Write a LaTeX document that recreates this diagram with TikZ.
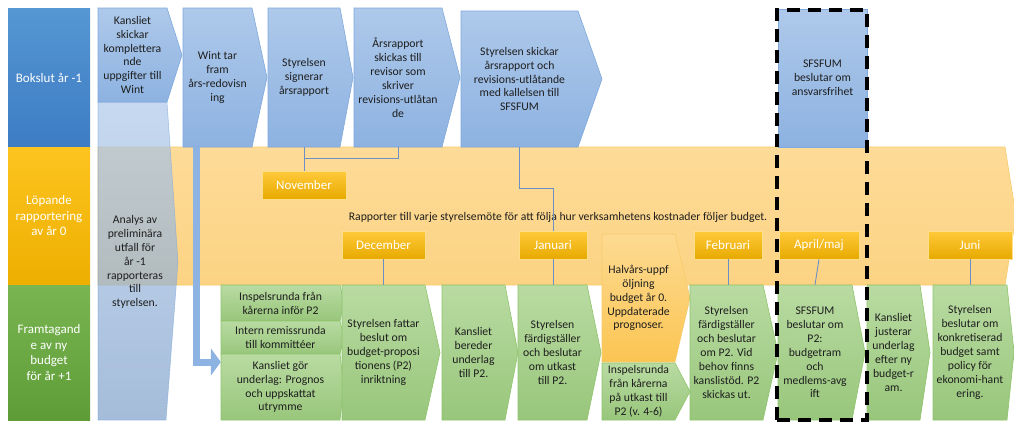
\documentclass[tikz,border=0pt]{standalone}
\usepackage{fontspec}
\setmainfont{Carlito}
\usetikzlibrary{arrows.meta,positioning}

\definecolor{bokBlue}{HTML}{5596D3}
\definecolor{bokBlueDk}{HTML}{3D7CC3}
\definecolor{lopGold}{HTML}{FDC420}
\definecolor{lopGoldDk}{HTML}{EDAF00}
\definecolor{budGreen}{HTML}{79B651}
\definecolor{budGreenDk}{HTML}{5E9C38}
\definecolor{stepBlue}{HTML}{AEC9EA}
\definecolor{stepBlueDk}{HTML}{8DB2E1}
\definecolor{stepBlueLine}{HTML}{7FA8DC}
\definecolor{stepGreen}{HTML}{B9DBA2}
\definecolor{stepGreenDk}{HTML}{98C67B}
\definecolor{stepGreenLine}{HTML}{8EC46B}
\definecolor{bandOrange}{HTML}{FDDB98}
\definecolor{bandOrangeDk}{HTML}{FCD383}
\definecolor{bandLine}{HTML}{F8CA6A}
\definecolor{halvOrange}{HTML}{FDDA92}
\definecolor{halvOrangeDk}{HTML}{FBC552}
\definecolor{monthGold}{HTML}{FFC93A}
\definecolor{monthGoldDk}{HTML}{E8AA00}
\definecolor{linkBlue}{HTML}{6C90C6}
\definecolor{arrowBlue}{HTML}{8DB3E2}
\definecolor{txtGray}{HTML}{1E1E1E}

% homeplate: [style]{name}{x1}{y1}{x2}{y2}{tip x}{text}
\newcommand{\homeplate}[8][]{%
  \path[#1] (#3,#4) -- (#5,#4) -- (#7,{(#4+#6)/2}) -- (#5,#6) -- (#3,#6) -- cycle;
  \node[txt,minimum width={#5-#3},minimum height={#6-#4}] (#2) at ({(#3+#5)/2},{(#4+#6)/2}) {#8};
}

\begin{document}
\begin{tikzpicture}[x=1pt,y=-1pt,
  txt/.style={inner sep=0pt,align=center,text=txtGray,font=\fontsize{11.7}{13.9}\selectfont},
  lbl/.style={inner sep=0pt,align=center,text=white,font=\fontsize{13}{15.5}\selectfont,minimum width=82},
  blu/.style={top color=stepBlue,bottom color=stepBlueDk,draw=stepBlueLine,line width=0.6pt},
  grn/.style={top color=stepGreen,bottom color=stepGreenDk,draw=stepGreenLine,line width=0.6pt},
  org/.style={top color=halvOrange,bottom color=halvOrangeDk,draw=bandLine,line width=0.6pt},
  mon/.style={inner sep=0pt,minimum height=28,top color=monthGold,bottom color=monthGoldDk,draw=monthGold!60!white,line width=0.5pt,text=white,font=\fontsize{13}{15}\selectfont},
  conn/.style={draw=linkBlue,line width=0.9pt},
  bigarrow/.style={draw=arrowBlue,line width=7pt,-{Triangle[width=27pt,length=10pt]}},
  dashframe/.style={draw=black,line width=3.5pt,dash pattern=on 13pt off 8pt,minimum width=90,minimum height=410,inner sep=0pt}]
\useasboundingbox (0,0) rectangle (1014,423);

% row labels
\node[lbl,minimum height=139,top color=bokBlue,bottom color=bokBlueDk] (bokslut) at (49,77.5) {Bokslut år -1};
\node[lbl,minimum height=138,top color=lopGold,bottom color=lopGoldDk] (lopande) at (49,216) {Löpande\\rapportering\\av år 0};
\node[lbl,minimum height=135,top color=budGreen,bottom color=budGreenDk] (framtag) at (49,352.5) {Framtagand\\e av ny\\budget\\för år +1};

% band for year 0
\path[top color=bandOrange,bottom color=bandOrangeDk,draw=bandLine,line width=0.6pt] (98,147) -- (1005,147) -- (1016,216) -- (1005,285) -- (98,285) -- cycle;
\node[txt] (rapport) at (558,217) {Rapporter till varje styrelsemöte för att följa hur verksamhetens kostnader följer budget.};

% analysis column
\path[top color=stepBlue,middle color=stepBlue!30!white,bottom color=stepBlueDk!90!black,fill opacity=0.7,draw=stepBlueLine,draw opacity=0.6,line width=0.6pt] (98,102) -- (167,102) -- (178,262) -- (166,420) -- (98,420) -- cycle;
\node[txt] (analys) at (135,262) {Analys av\\preliminära\\utfall för\\år -1\\rapporteras\\till\\styrelsen.};

% top row
\homeplate[blu]{kansli}{98}{8}{167}{102}{182}{Kansliet\\skickar\\komplettera\\nde\\uppgifter till\\Wint}
\homeplate[blu]{wint}{183}{8}{252}{147}{267}{Wint tar\\fram\\års-redovisn\\ing}
\homeplate[blu]{signerar}{268}{8}{340}{147}{353}{Styrelsen\\signerar\\årsrapport}
\homeplate[blu]{revisor}{354}{8}{442}{147}{460}{Årsrapport\\skickas till\\revisor som\\skriver\\revisions-utlåtan\\de}
\homeplate[blu]{kallelse}{461}{11}{578}{147}{602}{Styrelsen skickar\\årsrapport och\\revisions-utlåtande\\med kallelsen till\\SFSFUM}
\node[txt,blu,minimum width=89,minimum height=138] (ansvar) at (822.5,78) {SFSFUM\\beslutar om\\ansvarsfrihet};

% months
\node[mon,minimum width=84] (nov) at (304,185) {November};
\foreach \n/\x/\w/\t in {dec/383.5/83/December, jan/553/68/Januari, feb/728/68/Februari, apr/819/80/{April/maj}, jun/970/84/Juni}
  \node[mon,minimum width=\w] (\n) at (\x,245) {\t};

\draw[conn] (signerar.south) -- (nov.north);
\draw[conn] (revisor.south) -- ++(0,11) -| (nov.north);
\draw[conn] (kallelse.south) -- ++(0,41) -| (jan.north);

% bottom row
\homeplate[grn]{inspel}{221}{285}{340}{321}{344}{Inspelsrunda från\\kårerna inför P2}
\homeplate[grn]{remiss}{221}{321}{340}{354}{344}{Intern remissrunda\\till kommittéer}
\homeplate[grn]{prognos}{221}{354}{340}{420}{344}{Kansliet gör\\underlag: Prognos\\och uppskattat\\utrymme}
\homeplate[grn]{inriktning}{342}{285}{425}{420}{440}{Styrelsen fattar\\beslut om\\budget-proposi\\tionens (P2)\\inriktning}
\homeplate[grn]{bereder}{442}{285}{505}{420}{518}{Kansliet\\bereder\\underlag\\till P2.}
\homeplate[grn]{utkast}{518}{285}{587}{420}{601}{Styrelsen\\färdigställer\\och beslutar\\om utkast\\till P2.}
\homeplate[org]{halvar}{602}{234}{675}{362}{690}{Halvårs-uppf\\öljning\\budget år 0.\\Uppdaterade\\prognoser.}
\homeplate[grn]{inspelB}{602}{363}{675}{420}{690}{Inspelsrunda\\från kårerna\\på utkast till\\P2 (v. 4-6)}
\homeplate[grn]{beslutP}{690}{285}{763}{420}{778}{Styrelsen\\färdigställer\\och beslutar\\om P2. Vid\\behov finns\\kanslistöd. P2\\skickas ut.}
\homeplate[grn]{budgetram}{778}{285}{852}{420}{865}{SFSFUM\\beslutar om\\P2:\\budgetram\\och\\medlems-avg\\ift}
\homeplate[grn]{justerar}{867}{285}{920}{420}{930}{Kansliet\\justerar\\underlag\\efter ny\\budget-r\\am.}
\homeplate[grn]{konkret}{933}{285}{1007}{420}{1014}{Styrelsen\\beslutar om\\konkretiserad\\budget samt\\policy för\\ekonomi-hant\\ering.}

\draw[conn] (dec.south) -- (inriktning.north);
\draw[conn] (jan.south) -- (jan.south |- utkast.north);
\draw[conn] (feb.south) -- (feb.south |- beslutP.north);
\draw[conn] (apr.south) -- (budgetram.north);
\draw[conn] (jun.south) -- (konkret.north);

% arrow from Wint down to the budget work
\coordinate (arrEnd) at (prognos.west |- 0,362);
\draw[bigarrow] (196,0 |- wint.south) |- (arrEnd);

\node[dashframe] (focus) at (822,215) {};
\end{tikzpicture}
\end{document}
